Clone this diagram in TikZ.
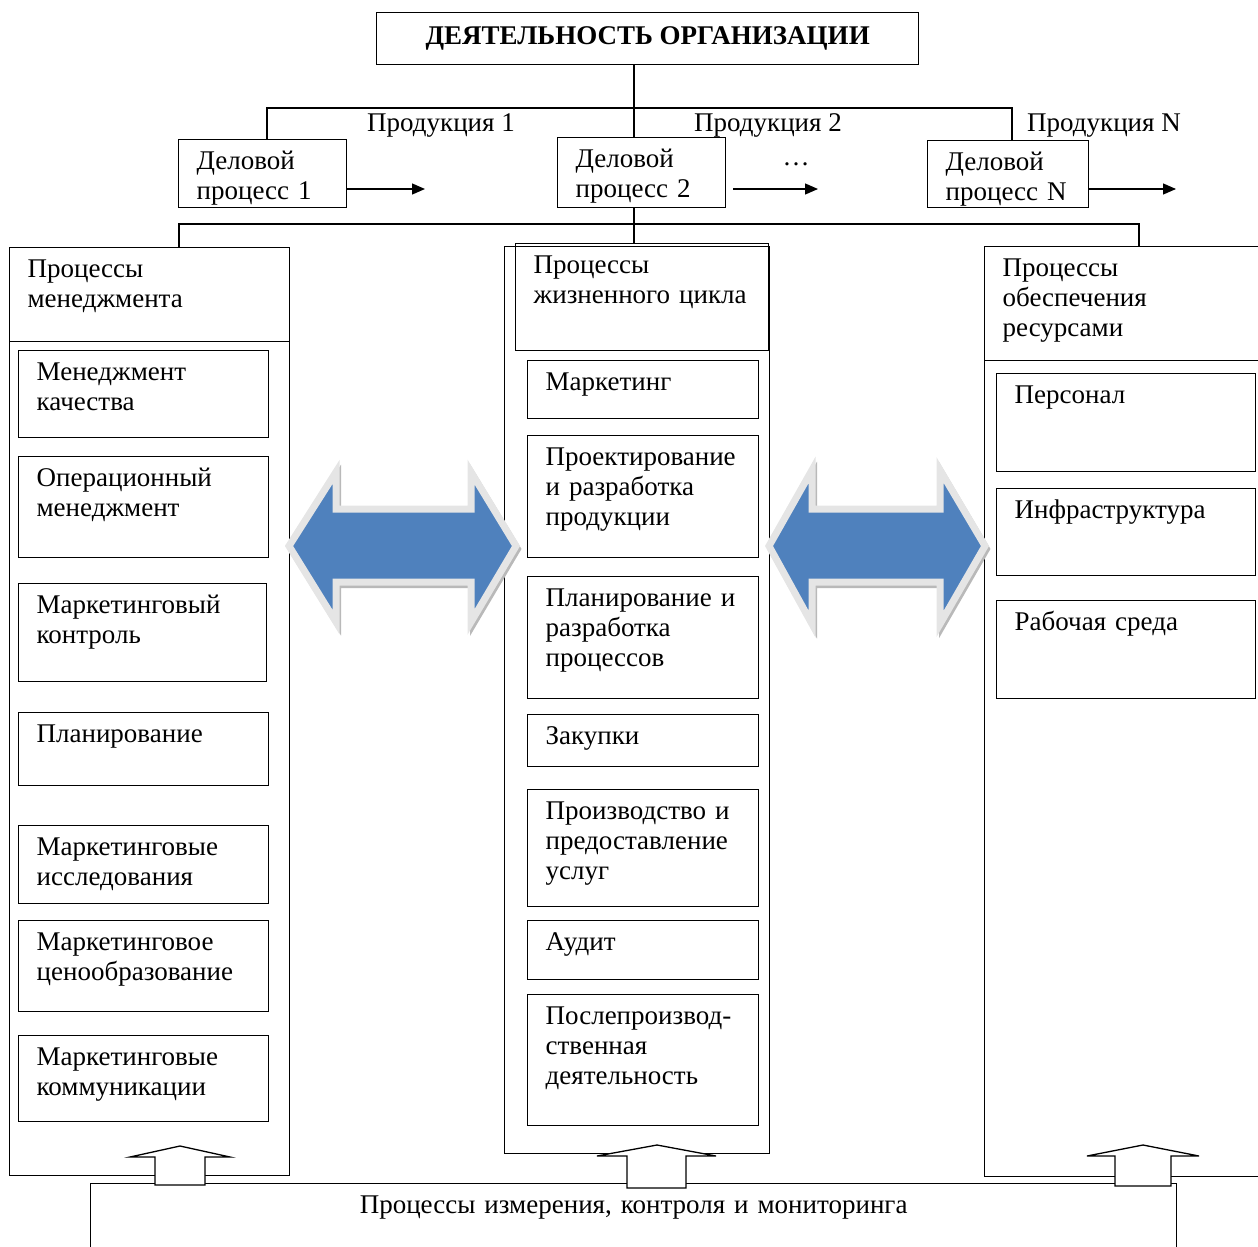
\documentclass[tikz,border=0pt]{standalone}
\usepackage{fontspec}
\setmainfont{Liberation Serif}
\usetikzlibrary{arrows.meta}
\definecolor{arrowblue}{HTML}{4F81BD}

\begin{document}
\begin{tikzpicture}[x=1pt, y=-1pt,
        font=\fontsize{27}{30}\selectfont,
        cell/.style 2 args={draw, line width=1.3pt, anchor=north west, align=left,
            inner xsep=18pt, inner ysep=9pt, text height=21pt, text width=#1, text depth=#2},
        column/.style={draw, line width=1.3pt, anchor=north west, inner sep=0pt},
        link/.style={line width=1.3pt},
        output/.style={line width=1.3pt, -{Triangle[length=13pt,width=11pt]}},
        bigarrow/.style={fill=arrowblue, draw=gray!20, line width=7pt, line join=miter},
        arrowshade/.style={draw=gray!55, line width=6pt, line join=miter},
        uparrow/.style={fill=white, draw=black, line width=1.3pt}]
                \useasboundingbox (0,0) rectangle (1258,1247);
                \clip (0,0) rectangle (1258,1247);

                \node [draw, line width=1.3pt, anchor=north west, minimum width=542pt, minimum height=52pt,
                    font=\fontsize{27}{30}\selectfont\bfseries] (org) at (376,12) {ДЕЯТЕЛЬНОСТЬ ОРГАНИЗАЦИИ};

                \node [cell={132pt}{29pt}] (bp1) at (178,139) {Деловой\\процесс 1};
                \node [cell={132pt}{31pt}] (bp2) at (557,137) {Деловой\\процесс 2};
                \node [cell={125pt}{28pt}] (bpn) at (927,140) {Деловой\\процесс N};

                \node [anchor=base] (prod1) at (441,131) {Продукция 1};
                \node [anchor=base] (prod2) at (768,131) {Продукция 2};
                \node [anchor=base] (prodn) at (1104,131) {Продукция N};
                \node [anchor=base] (dots) at (796,165) {…};

                \coordinate (trunk) at (634,108);
                \coordinate (busL) at (267,108);
                \coordinate (busR) at (1012,108);
                \draw[link] (org.south -| trunk) -- (bp2.north -| trunk);
                \draw[link] (bp1.north -| busL) -- (busL) -- (busR) -- (bpn.north -| busR);

                \coordinate (end1) at (425,189);
                \coordinate (end2) at (818,189);
                \coordinate (endn) at (1176,189);
                \draw[output] (bp1.east |- end1) -- (end1);
                \draw[output] ([xshift=7pt]bp2.east |- end2) -- (end2);
                \draw[output] (bpn.east |- endn) -- (endn);

                \node [column, minimum width=280pt, minimum height=928pt] (mgmt) at (9,247) {};
                \node [column, minimum width=265pt, minimum height=907pt] (life) at (504,246) {};
                \node [column, minimum width=300pt, minimum height=930pt] (res) at (984,246) {};

                \node [cell={244pt}{55pt}] (mgmthead) at (9,247) {Процессы\\менеджмента};
                \node [cell={217pt}{68pt}] (lifehead) at (515,243) {Процессы\\жизненного цикла};
                \node [cell={254pt}{75pt}] (reshead) at (984,246) {Процессы\\обеспечения\\ресурсами};

                \coordinate (stem) at (634,224);
                \coordinate (bus2L) at (179,224);
                \coordinate (bus2R) at (1139,224);
                \draw[link] (bp2.south -| stem) -- (lifehead.north -| stem);
                \draw[link] (mgmt.north -| bus2L) -- (bus2L) -- (bus2R) -- (res.north -| bus2R);

                \node [cell={214pt}{48pt}] (m1) at (18,350) {Менеджмент\\качества};
                \node [cell={214pt}{62pt}] (m2) at (18,456) {Операционный\\менеджмент};
                \node [cell={212pt}{59pt}] (m3) at (18,583) {Маркетинговый\\контроль};
                \node [cell={214pt}{34pt}] (m4) at (18,712) {Планирование};
                \node [cell={214pt}{39pt}] (m5) at (18,825) {Маркетинговые\\исследования};
                \node [cell={214pt}{52pt}] (m6) at (18,920) {Маркетинговое\\ценообразование};
                \node [cell={214pt}{47pt}] (m7) at (18,1035) {Маркетинговые\\коммуникации};

                \node [cell={195pt}{19pt}] (l1) at (527,360) {Маркетинг};
                \node [cell={195pt}{83pt}] (l2) at (527,435) {Проектирование\\и~разработка\\продукции};
                \node [cell={195pt}{83pt}] (l3) at (527,576) {Планирование~и\\разработка\\процессов};
                \node [cell={195pt}{13pt}] (l4) at (527,714) {Закупки};
                \node [cell={195pt}{78pt}] (l5) at (527,789) {Производство~и\\предоставление\\услуг};
                \node [cell={195pt}{20pt}] (l6) at (527,920) {Аудит};
                \node [cell={195pt}{92pt}] (l7) at (527,994) {Послепроизвод-\\ственная\\деятельность};

                \node [cell={223pt}{59pt}] (r1) at (996,373) {Персонал};
                \node [cell={223pt}{48pt}] (r2) at (996,488) {Инфраструктура};
                \node [cell={223pt}{59pt}] (r3) at (996,600) {Рабочая~среда};

                \draw[arrowshade] (291,549) -- (338,475) -- (338,512) -- (473,512) -- (473,475) -- (518,549)
                    -- (473,625) -- (473,585) -- (338,585) -- (338,625) -- cycle;
                \draw[bigarrow] (289,546) -- (336,472) -- (336,509) -- (471,509) -- (471,472) -- (516,546)
                    -- (471,622) -- (471,582) -- (336,582) -- (336,622) -- cycle;
                \draw[arrowshade] (771,549) -- (814,473) -- (814,512) -- (942,512) -- (942,473) -- (987,549)
                    -- (942,627) -- (942,585) -- (814,585) -- (814,627) -- cycle;
                \draw[bigarrow] (769,546) -- (812,470) -- (812,509) -- (940,509) -- (940,470) -- (985,546)
                    -- (940,624) -- (940,582) -- (812,582) -- (812,624) -- cycle;

                \node [cell={1050pt}{68pt}, align=center] (meas) at (90,1183) {Процессы измерения, контроля и мониторинга};

                \draw[uparrow] (180,1146) -- (230,1157) -- (205,1157) -- (205,1185) -- (155,1185) -- (155,1157) -- (130,1157) -- cycle;
                \draw[uparrow] (657,1145) -- (716,1156) -- (686,1156) -- (686,1188) -- (627,1188) -- (627,1156) -- (597,1156) -- cycle;
                \draw[uparrow] (1143,1145) -- (1199,1156) -- (1171,1156) -- (1171,1186) -- (1115,1186) -- (1115,1156) -- (1087,1156) -- cycle;
            \end{tikzpicture}
\end{document}
